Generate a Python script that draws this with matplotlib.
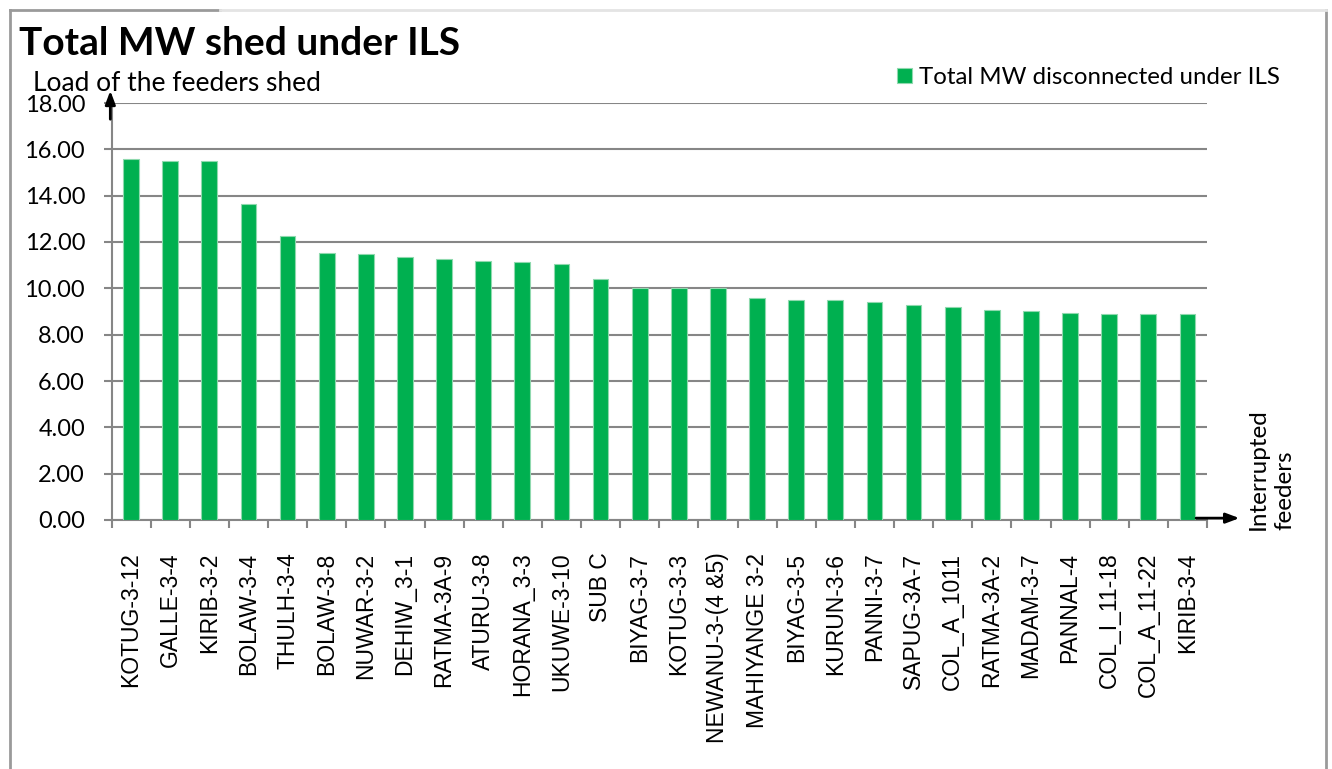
import matplotlib
matplotlib.use("Agg")
import matplotlib.pyplot as plt
from matplotlib.lines import Line2D
import numpy as np

W, H = 1332, 769

feeders = ["KOTUG-3-12", "GALLE-3-4", "KIRIB-3-2", "BOLAW-3-4", "THULH-3-4",
           "BOLAW-3-8", "NUWAR-3-2", "DEHIW_3-1", "RATMA-3A-9", "ATURU-3-8",
           "HORANA_3-3", "UKUWE-3-10", "SUB C", "BIYAG-3-7", "KOTUG-3-3",
           "NEWANU-3-(4 &5)", "MAHIYANGE 3-2", "BIYAG-3-5", "KURUN-3-6",
           "PANNI-3-7", "SAPUG-3A-7", "COL_A_1011", "RATMA-3A-2", "MADAM-3-7",
           "PANNAL-4", "COL_I_11-18", "COL_A_11-22", "KIRIB-3-4"]
mw_shed = [15.58, 15.49, 15.49, 13.64, 12.24, 11.54, 11.48, 11.35, 11.25, 11.19,
           11.13, 11.05, 10.40, 10.00, 10.00, 10.00, 9.60, 9.50, 9.50, 9.40,
           9.29, 9.19, 9.05, 9.01, 8.95, 8.90, 8.90, 8.90]
yticks = [0, 2, 4, 6, 8, 10, 12, 14, 16, 18]

green = "#00B050"
gray = "#868686"
calibri = ["Lato", "DejaVu Sans"]
arial = ["Liberation Sans", "DejaVu Sans"]

def fx(px):
    return px / W

def fy(py):
    return 1 - py / H

fig = plt.figure(figsize=(W / 100, H / 100), dpi=100)
ax = fig.add_axes([fx(111.5), fy(520), fx(1207) - fx(111.5), fy(103) - fy(520)])

x = np.arange(len(feeders))
bars = ax.bar(x, mw_shed, width=0.4, color=green, edgecolor="#8FD9AE",
              linewidth=0.8, label="Total MW disconnected under ILS", zorder=3)

ax.set_xlim(-0.5, len(feeders) - 0.5)
ax.set_ylim(0, 18)
ax.set_yticks(yticks)
ax.set_yticklabels(["%.2f" % v for v in yticks], family=calibri, fontsize=17)
ax.set_xticks(x)
ax.set_xticklabels(feeders, rotation=90, family=arial, fontsize=16.5)
ax.set_xticks(np.arange(len(feeders) + 1) - 0.5, minor=True)
# pads and lengths in points (1 pt = 1.389 px at 100 dpi)
ax.tick_params(axis="x", which="major", length=0, pad=23.5)
ax.tick_params(axis="x", which="minor", length=6, width=1.5, color=gray)
ax.tick_params(axis="y", length=6, width=1.5, color=gray, pad=13)

ax.yaxis.grid(True, color=gray, linewidth=1.5, zorder=0)
ax.set_axisbelow(True)
for s in ["top", "right"]:
    ax.spines[s].set_visible(False)
for s in ["left", "bottom"]:
    ax.spines[s].set_color(gray)
    ax.spines[s].set_linewidth(1.5)

# axis arrows
ax.annotate("", xy=(-0.53, 18.65), xytext=(-0.53, 17.18),
            arrowprops=dict(arrowstyle="-|>,head_length=0.8,head_width=0.3",
                            color="black", lw=2), annotation_clip=False)
ax.annotate("", xy=(28.4, 0.08), xytext=(27.15, 0.08),
            arrowprops=dict(arrowstyle="-|>,head_length=0.8,head_width=0.3",
                            color="black", lw=2), annotation_clip=False)

fig.text(fx(19), fy(55), "Total MW shed under ILS", family=calibri,
         fontsize=28, weight="bold", va="baseline", ha="left")
fig.text(fx(33), fy(91), "Load of the feeders shed", family=calibri,
         fontsize=19, va="baseline", ha="left")
fig.text(fx(1248), fy(530), "Interrupted\nfeeders", family=calibri,
         fontsize=17.5, rotation=90, va="bottom", ha="left", linespacing=1.3)

ax.legend(loc="lower left", bbox_to_anchor=(fx(897), fy(88)),
          bbox_transform=fig.transFigure, frameon=False,
          prop=dict(family=calibri, size=17.3), handlelength=0.62,
          handleheight=0.62, handletextpad=0.3, borderpad=0, borderaxespad=0)

# outer chart frame
fig.add_artist(Line2D([fx(10), fx(10)], [fy(10), 0], color="#9a9a9a", lw=2))
fig.add_artist(Line2D([fx(1326), fx(1326)], [fy(10), 0], color="#9a9a9a", lw=2))
fig.add_artist(Line2D([fx(10), fx(220)], [fy(10), fy(10)], color="#9a9a9a", lw=2))
fig.add_artist(Line2D([fx(220), fx(1326)], [fy(10), fy(10)], color="#e4e4e4", lw=2))

fig.savefig("out.png", dpi=100)
